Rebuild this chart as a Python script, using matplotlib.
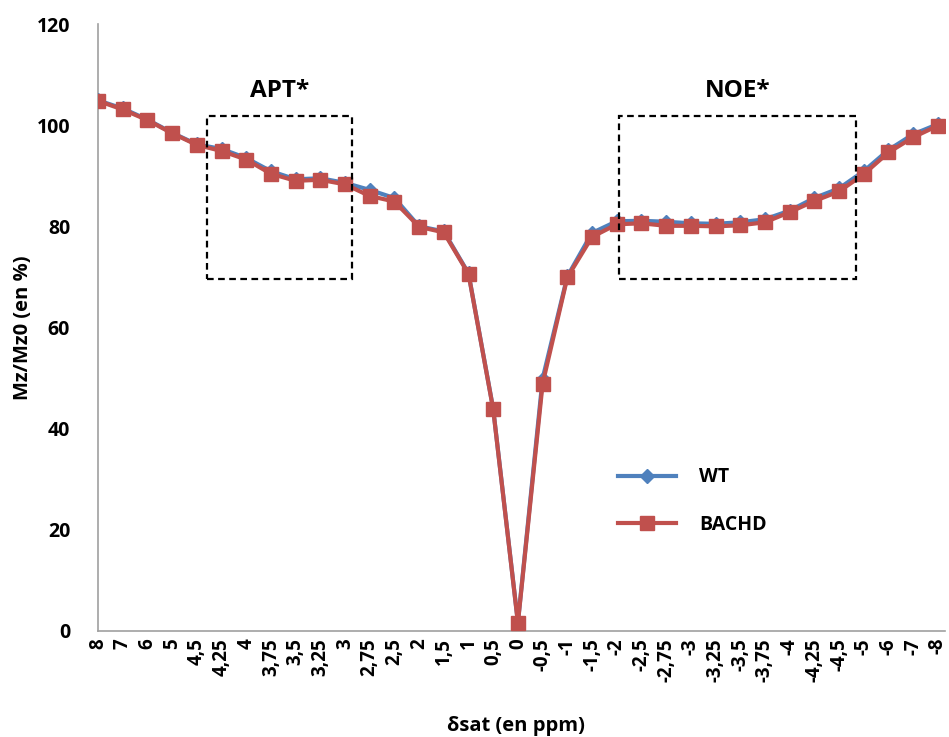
import matplotlib
matplotlib.use('Agg')
import matplotlib.pyplot as plt
from matplotlib.patches import Rectangle

# Saturation offsets (ppm), as written on the axis
delta_labels = ['8', '7', '6', '5', '4,5', '4,25', '4', '3,75', '3,5', '3,25', '3',
                '2,75', '2,5', '2', '1,5', '1', '0,5', '0', '-0,5', '-1', '-1,5', '-2',
                '-2,5', '-2,75', '-3', '-3,25', '-3,5', '-3,75', '-4', '-4,25', '-4,5',
                '-5', '-6', '-7', '-8']

# Mz/Mz0 (%)
wt = [104.9, 103.3, 101.1, 98.5, 96.2, 95.3, 93.5, 90.9, 89.3, 89.5, 88.6,
      87.2, 85.6, 80.0, 79.0, 70.7, 43.9, 1.7, 49.9, 70.1, 78.7, 81.0,
      81.1, 80.9, 80.6, 80.5, 80.8, 81.4, 83.1, 85.6, 87.5, 90.9, 95.1, 98.2, 100.2]
bachd = [104.8, 103.1, 101.0, 98.4, 96.1, 94.9, 93.2, 90.4, 89.0, 89.2, 88.3,
         86.0, 84.9, 79.9, 78.8, 70.6, 43.8, 1.6, 48.9, 69.9, 77.9, 80.4,
         80.6, 80.1, 80.1, 80.0, 80.2, 80.8, 82.8, 85.0, 86.9, 90.3, 94.6, 97.6, 99.9]

font = ['Open Sans', 'DejaVu Sans']
plt.rcParams['font.family'] = font
plt.rcParams['font.weight'] = 'bold'

fig = plt.figure(figsize=(9.49, 7.37), dpi=100)
ax = fig.add_axes([98 / 949, 1 - 631 / 737, (945 - 98) / 949, (631 - 24) / 737])

x = list(range(len(delta_labels)))
ax.plot(x, wt, color='#4F81BD', lw=3, marker='D', ms=7, label='WT', zorder=3)
ax.plot(x, bachd, color='#C0504D', lw=3, marker='s', ms=9.5, label='BACHD', zorder=4)

# dashed boxes for APT / NOE regions
for x0, x1, txt in [(4.4, 10.3, 'APT*'), (21.1, 30.7, 'NOE*')]:
    ax.add_patch(Rectangle((x0, 69.6), x1 - x0, 32.2, fill=False, ls=(0, (3, 2)),
                           lw=1.6, ec='black', zorder=5))
    ax.text((x0 + x1) / 2, 106.8, txt, ha='center', va='center',
            fontsize=17.5, fontweight='bold')

ax.set_xlim(0, 34.29)
ax.set_ylim(0, 120)
ax.set_xticks(x)
ax.set_xticklabels(delta_labels, rotation=90, fontsize=13.5, fontweight='bold', va='top')
ax.set_yticks(range(0, 121, 20))
ax.tick_params(axis='y', labelsize=14, length=0, pad=20)
ax.tick_params(axis='x', length=0, pad=5)
for lab in ax.get_yticklabels():
    lab.set_fontweight('bold')

for s in ['top', 'right']:
    ax.spines[s].set_visible(False)
for s in ['left', 'bottom']:
    ax.spines[s].set_color('#A0A0A0')
    ax.spines[s].set_linewidth(1.2)

ax.set_ylabel('Mz/Mz0 (en %)', fontsize=14.5, fontweight='bold', va='center')
ax.yaxis.set_label_coords(-75 / 847, 0.5)
fig.text(516 / 949, 1 - 726 / 737, 'δsat (en ppm)', ha='center', va='center',
         fontsize=14.5, fontweight='bold')

ax.legend(loc='upper left', bbox_to_anchor=(600 / 949, 1 - 450 / 737),
          bbox_transform=fig.transFigure, frameon=False, fontsize=14,
          handlelength=3, labelspacing=1.4, handletextpad=1.2)

fig.savefig('out.png', dpi=100)
